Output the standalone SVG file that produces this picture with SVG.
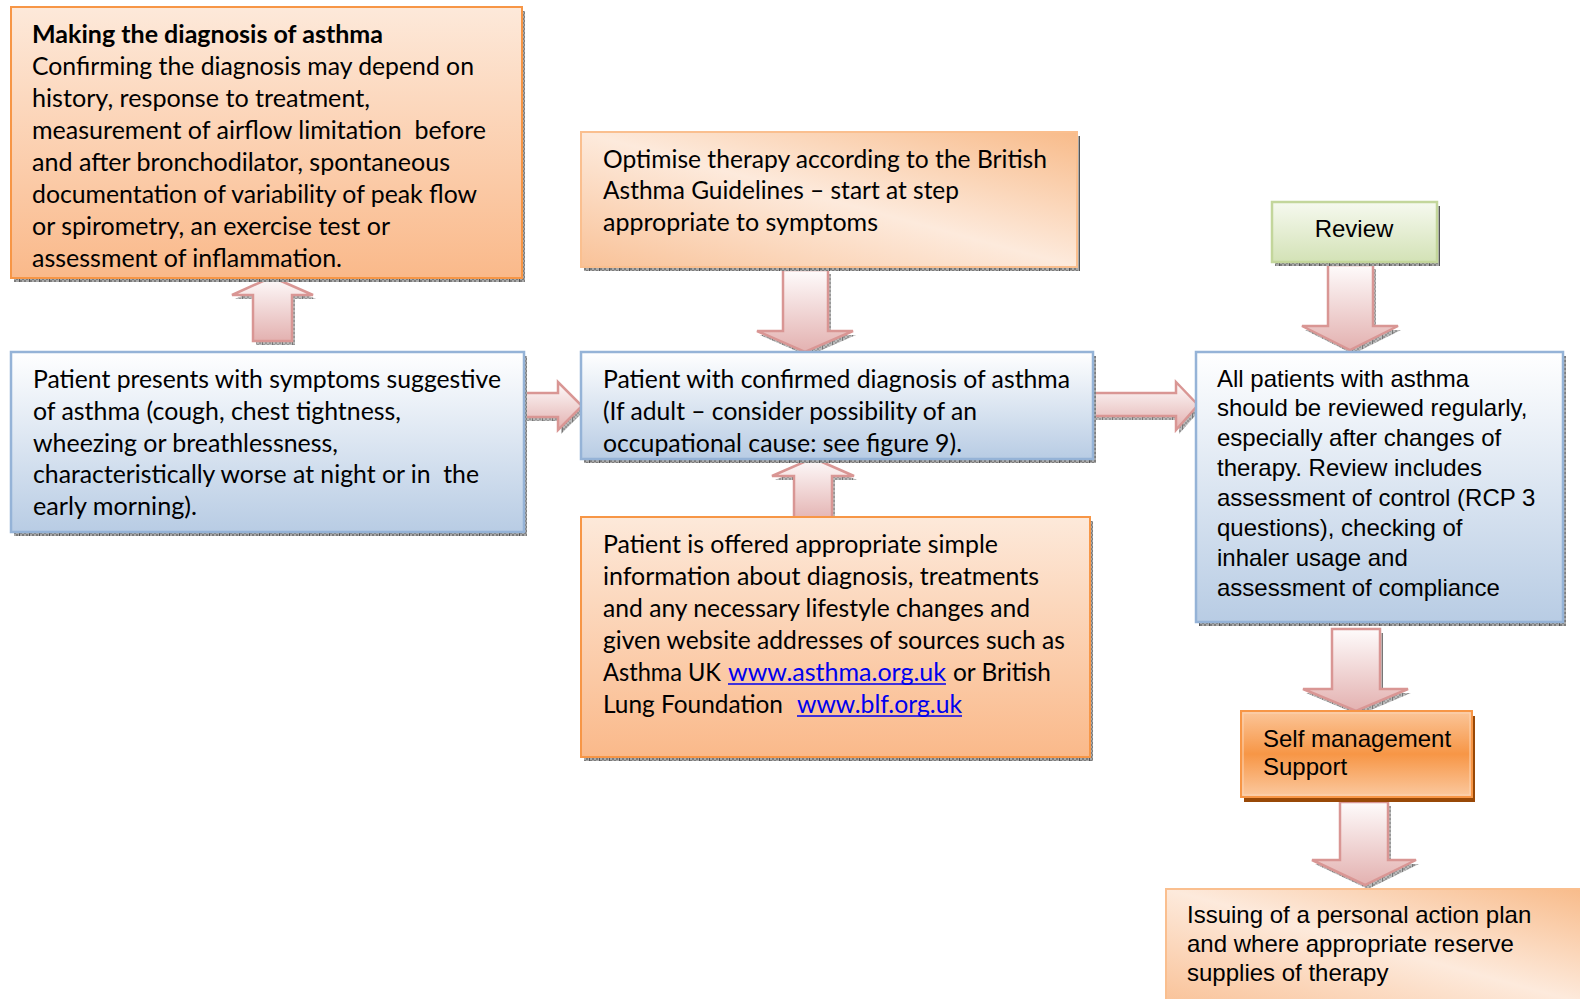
<svg xmlns="http://www.w3.org/2000/svg" width="1580" height="999" viewBox="0 0 1580 999">
<style>
.cal{font-family:Lato,"Open Sans","Noto Sans",sans-serif;font-size:25px;fill:#000}
.calb{font-family:Lato,"Open Sans","Noto Sans",sans-serif;font-size:25px;font-weight:bold;fill:#000}
.ar{font-family:"Liberation Sans",Arial,sans-serif;font-size:24px;fill:#000}
.lnk{fill:#0000ee}
.ul{stroke:#0000ee;stroke-width:1.6}
.blue{stroke:#95b3d7;stroke-width:2.5;fill:url(#gBlue)}
.orgV{stroke:#f79646;stroke-width:2;fill:url(#gOrgV)}
.orgD{stroke:#fabf8f;stroke-width:2;fill:url(#gOrgD)}
.shd{fill:url(#hatch)}
.arrow{fill:url(#gArrow);stroke:#d99694;stroke-width:2.5;stroke-linejoin:miter}
.ashd{fill:url(#hatch);opacity:0.8}
</style>
<defs>
<pattern id="hatch" width="10" height="4" patternUnits="userSpaceOnUse">
<rect width="10" height="4" fill="#a9a9a9"/>
<rect x="0" y="0" width="2" height="2" fill="#7d7d7d"/>
<rect x="4" y="0" width="2" height="2" fill="#7d7d7d"/>
<rect x="2" y="2" width="2" height="2" fill="#7d7d7d"/>
<rect x="6" y="2" width="2" height="2" fill="#7d7d7d"/>
<rect x="9" y="0" width="1" height="4" fill="#555"/>
</pattern>
<linearGradient id="gBlue" x1="0" y1="0" x2="0" y2="1">
<stop offset="0" stop-color="#ffffff"/>
<stop offset="1" stop-color="#b8cce4"/>
</linearGradient>
<linearGradient id="gOrgV" x1="0" y1="0" x2="0" y2="1">
<stop offset="0" stop-color="#fde9da"/>
<stop offset="1" stop-color="#fab98a"/>
</linearGradient>
<linearGradient id="gOrgD" x1="1" y1="0" x2="0" y2="1">
<stop offset="0" stop-color="#f8bb8a"/>
<stop offset="0.5" stop-color="#fdeadc"/>
<stop offset="1" stop-color="#f9c298"/>
</linearGradient>
<linearGradient id="gGreen" x1="0" y1="0" x2="0" y2="1">
<stop offset="0" stop-color="#f6f9ef"/>
<stop offset="1" stop-color="#d3e2b6"/>
</linearGradient>
<linearGradient id="gSelf" x1="0" y1="0" x2="0" y2="1">
<stop offset="0" stop-color="#fbc69a"/>
<stop offset="0.5" stop-color="#f79646"/>
<stop offset="1" stop-color="#fbc9a0"/>
</linearGradient>
<linearGradient id="gArrow" x1="0" y1="0" x2="0" y2="1">
<stop offset="0" stop-color="#fefbfb"/>
<stop offset="1" stop-color="#e3b1b0"/>
</linearGradient>
</defs>
<rect width="1580" height="999" fill="#ffffff"/>

<g id="connectors">
<polygon class="ashd" transform="translate(3,4)" points="272,277 313,295 292,295 292,341 253,341 253,295 232,295"/>
<polygon class="arrow" points="272,277 313,295 292,295 292,341 253,341 253,295 232,295"/>
<polygon class="ashd" transform="translate(3,4)" points="522,393 558,393 558,382 582,406 558,430 558,417 522,417"/>
<polygon class="arrow" points="522,393 558,393 558,382 582,406 558,430 558,417 522,417"/>
<polygon class="ashd" transform="translate(3,4)" points="783,270 828,270 828,331 853,331 805,352 757,331 783,331"/>
<polygon class="arrow" points="783,270 828,270 828,331 853,331 805,352 757,331 783,331"/>
<polygon class="ashd" transform="translate(3,4)" points="813,458 854,476 832,476 832,522 794,522 794,476 772,476"/>
<polygon class="arrow" points="813,458 854,476 832,476 832,522 794,522 794,476 772,476"/>
<polygon class="ashd" transform="translate(3,4)" points="1092,393 1176,393 1176,382 1198,405 1176,430 1176,416 1092,416"/>
<polygon class="arrow" points="1092,393 1176,393 1176,382 1198,405 1176,430 1176,416 1092,416"/>
<polygon class="ashd" transform="translate(3,4)" points="1328,265 1373,265 1373,326 1398,326 1350,350 1302,326 1328,326"/>
<polygon class="arrow" points="1328,265 1373,265 1373,326 1398,326 1350,350 1302,326 1328,326"/>
<polygon class="ashd" transform="translate(3,4)" points="1332,629 1380,629 1380,689 1408,689 1356,711 1303,689 1332,689"/>
<polygon class="arrow" points="1332,629 1380,629 1380,689 1408,689 1356,711 1303,689 1332,689"/>
<polygon class="ashd" transform="translate(3,4)" points="1340,802 1388,802 1388,860 1416,860 1365,885 1312,860 1340,860"/>
<polygon class="arrow" points="1340,802 1388,802 1388,860 1416,860 1365,885 1312,860 1340,860"/>
</g>

<g id="node-diagnosis">
<rect class="shd" x="14" y="11" width="511" height="271"/>
<rect class="orgV" x="11" y="7" width="511" height="271"/>
<text class="calb" x="32" y="43" textLength="351" lengthAdjust="spacingAndGlyphs">Making the diagnosis of asthma</text>
<text class="cal" x="32" y="75" textLength="442" lengthAdjust="spacingAndGlyphs">Confirming the diagnosis may depend on</text>
<text class="cal" x="32" y="107" textLength="338" lengthAdjust="spacingAndGlyphs">history, response to treatment,</text>
<text class="cal" x="32" y="139" textLength="454" lengthAdjust="spacingAndGlyphs" xml:space="preserve">measurement of airflow limitation  before</text>
<text class="cal" x="32" y="171" textLength="418" lengthAdjust="spacingAndGlyphs">and after bronchodilator, spontaneous</text>
<text class="cal" x="32" y="203" textLength="445" lengthAdjust="spacingAndGlyphs">documentation of variability of peak flow</text>
<text class="cal" x="32" y="235" textLength="358" lengthAdjust="spacingAndGlyphs">or spirometry, an exercise test or</text>
<text class="cal" x="32" y="267" textLength="310" lengthAdjust="spacingAndGlyphs">assessment of inflammation.</text>
</g>

<g id="node-presents">
<rect class="shd" x="14" y="356" width="513" height="180"/>
<rect class="blue" x="11" y="352" width="513" height="180"/>
<text class="cal" x="33" y="388" textLength="468" lengthAdjust="spacingAndGlyphs">Patient presents with symptoms suggestive</text>
<text class="cal" x="33" y="420" textLength="368" lengthAdjust="spacingAndGlyphs">of asthma (cough, chest tightness,</text>
<text class="cal" x="33" y="452" textLength="305" lengthAdjust="spacingAndGlyphs">wheezing or breathlessness,</text>
<text class="cal" x="33" y="483" textLength="446" lengthAdjust="spacingAndGlyphs" xml:space="preserve">characteristically worse at night or in  the</text>
<text class="cal" x="33" y="515" textLength="164" lengthAdjust="spacingAndGlyphs">early morning).</text>
</g>

<g id="node-optimise">
<rect class="shd" x="584" y="136" width="496" height="135"/>
<rect class="orgD" x="581" y="132" width="496" height="135"/>
<text class="cal" x="603" y="168" textLength="444" lengthAdjust="spacingAndGlyphs">Optimise therapy according to the British</text>
<text class="cal" x="603" y="199" textLength="356" lengthAdjust="spacingAndGlyphs">Asthma Guidelines – start at step</text>
<text class="cal" x="603" y="231" textLength="275" lengthAdjust="spacingAndGlyphs">appropriate to symptoms</text>
</g>

<g id="node-confirmed">
<rect class="shd" x="584" y="356" width="512" height="107"/>
<rect class="blue" x="581" y="352" width="512" height="107"/>
<text class="cal" x="603" y="388" textLength="467" lengthAdjust="spacingAndGlyphs">Patient with confirmed diagnosis of asthma</text>
<text class="cal" x="603" y="420" textLength="374" lengthAdjust="spacingAndGlyphs">(If adult – consider possibility of an</text>
<text class="cal" x="603" y="452" textLength="359" lengthAdjust="spacingAndGlyphs">occupational cause: see figure 9).</text>
</g>

<g id="node-information">
<rect class="shd" x="584" y="521" width="509" height="240"/>
<rect class="orgV" x="581" y="517" width="509" height="240"/>
<text class="cal" x="603" y="553" textLength="395" lengthAdjust="spacingAndGlyphs">Patient is offered appropriate simple</text>
<text class="cal" x="603" y="585" textLength="436" lengthAdjust="spacingAndGlyphs">information about diagnosis, treatments</text>
<text class="cal" x="603" y="617" textLength="427" lengthAdjust="spacingAndGlyphs">and any necessary lifestyle changes and</text>
<text class="cal" x="603" y="649" textLength="462" lengthAdjust="spacingAndGlyphs">given website addresses of sources such as</text>
<text class="cal" x="603" y="681" textLength="118" lengthAdjust="spacingAndGlyphs">Asthma UK</text>
<text class="cal lnk" x="728" y="681" textLength="218" lengthAdjust="spacingAndGlyphs">www.asthma.org.uk</text>
<line class="ul" x1="728" y1="684" x2="946" y2="684"/>
<text class="cal" x="953" y="681" textLength="98" lengthAdjust="spacingAndGlyphs">or British</text>
<text class="cal" x="603" y="713" textLength="180" lengthAdjust="spacingAndGlyphs">Lung Foundation</text>
<text class="cal lnk" x="797" y="713" textLength="165" lengthAdjust="spacingAndGlyphs">www.blf.org.uk</text>
<line class="ul" x1="797" y1="716" x2="962" y2="716"/>
</g>

<g id="node-review">
<rect class="shd" x="1275" y="206" width="165" height="60"/>
<rect x="1272" y="202" width="165" height="60" fill="url(#gGreen)" stroke="#c3d69b" stroke-width="2.5"/>
<text class="ar" x="1354" y="237" text-anchor="middle">Review</text>
</g>

<g id="node-all-patients">
<rect class="shd" x="1199" y="356" width="367" height="270"/>
<rect class="blue" x="1196" y="352" width="367" height="270"/>
<text class="ar" x="1217" y="387">All patients with asthma</text>
<text class="ar" x="1217" y="416">should be reviewed regularly,</text>
<text class="ar" x="1217" y="446">especially after changes of</text>
<text class="ar" x="1217" y="476">therapy. Review includes</text>
<text class="ar" x="1217" y="506">assessment of control (RCP 3</text>
<text class="ar" x="1217" y="536">questions), checking of</text>
<text class="ar" x="1217" y="566">inhaler usage and</text>
<text class="ar" x="1217" y="596">assessment of compliance</text>
</g>

<g id="node-self-management">
<rect x="1244" y="716" width="231" height="86" fill="#984807"/>
<rect x="1241" y="711" width="231" height="86" fill="url(#gSelf)" stroke="#f79646" stroke-width="2"/>
<rect x="1243" y="713" width="227" height="82" fill="none" stroke="#fbd4b4" stroke-width="1"/>
<text class="ar" x="1263" y="747">Self management</text>
<text class="ar" x="1263" y="775">Support</text>
</g>

<g id="node-action-plan">
<rect class="orgD" x="1166" y="889" width="420" height="115"/>
<text class="ar" x="1187" y="923">Issuing of a personal action plan</text>
<text class="ar" x="1187" y="952">and where appropriate reserve</text>
<text class="ar" x="1187" y="981">supplies of therapy</text>
</g>
</svg>
